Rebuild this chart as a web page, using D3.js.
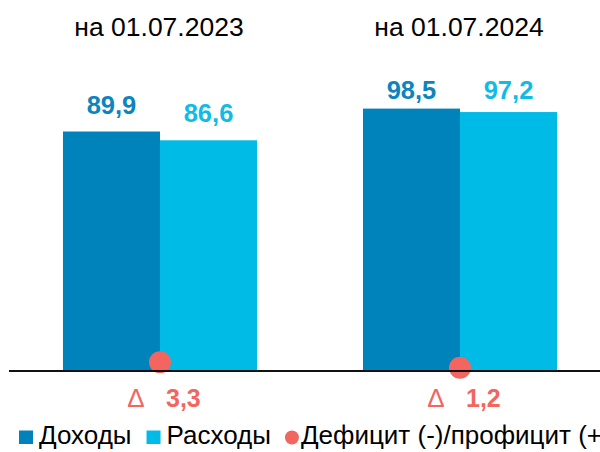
<!DOCTYPE html>
<html>
<head>
<meta charset="utf-8">
<script src="https://cdn.jsdelivr.net/npm/d3@7"></script>
<style>
  body { margin: 0; background: #fff; }
  svg { display: block; font-family: "Liberation Sans", Arial, sans-serif; overflow: hidden; }
</style>
</head>
<body>
<div id="chart"></div>
<script>
// data
var dates = ["на 01.07.2023", "на 01.07.2024"];
var seriesNames = ["Доходы", "Расходы"];
var income = [89.9, 98.5];
var expense = [86.6, 97.2];
var balance = [3.3, 1.2];
var balanceName = "Дефицит (-)/профицит (+)";

var W = 600, H = 452;
var colors = { "Доходы": "#0083BB", "Расходы": "#00BBE6" };
var labelColors = { "Доходы": "#0C84BC", "Расходы": "#12BBE6" };
var red = "#F2665F";

var fmt = function(v){ return d3.format(".1f")(v).replace(".", ","); };

var svg = d3.select("#chart").append("svg")
    .attr("width", W)
    .attr("height", H);

var x0 = d3.scaleBand()
    .domain(dates)
    .range([10, 610])
    .padding(0);

var x1 = d3.scaleBand()
    .domain(seriesNames)
    .range([0, x0.bandwidth()])
    .paddingInner(0)
    .paddingOuter(0.546);

var y = d3.scaleLinear()
    .domain([0, 100])
    .range([371, 104.6]);

var rows = dates.map(function(d, i){
    return { date: d, values: [
        { key: "Доходы", value: income[i] },
        { key: "Расходы", value: expense[i] }
    ], balance: balance[i] };
});

// titles
svg.selectAll("text.title")
    .data(dates)
    .enter().append("text")
    .attr("class", "title")
    .attr("x", function(d){ return x0(d) + x0.bandwidth() / 2 - 1; })
    .attr("y", 36)
    .attr("text-anchor", "middle")
    .attr("font-size", 26.5)
    .attr("fill", "#000")
    .text(function(d){ return d; });

var groups = svg.selectAll("g.group")
    .data(rows)
    .enter().append("g")
    .attr("class", "group")
    .attr("transform", function(d){ return "translate(" + x0(d.date) + ",0)"; });

groups.selectAll("rect")
    .data(function(d){ return d.values; })
    .enter().append("rect")
    .attr("x", function(d){ return x1(d.key); })
    .attr("width", x1.bandwidth())
    .attr("y", function(d){ return y(d.value); })
    .attr("height", function(d){ return y(0) - y(d.value); })
    .attr("fill", function(d){ return colors[d.key]; });

// value labels (kept inside plot area like the original)
groups.selectAll("text.val")
    .data(function(d){ return d.values; })
    .enter().append("text")
    .attr("class", "val")
    .attr("x", function(d){ return x1(d.key) + x1.bandwidth() / 2; })
    .attr("y", function(d){ return Math.max(y(d.value) - 18, 99); })
    .attr("text-anchor", "middle")
    .attr("font-size", 25.5)
    .attr("font-weight", "bold")
    .attr("fill", function(d){ return labelColors[d.key]; })
    .text(function(d){ return fmt(d.value); });

// axis line
svg.append("line")
    .attr("x1", 9)
    .attr("x2", W)
    .attr("y1", y(0))
    .attr("y2", y(0))
    .attr("stroke", "#111")
    .attr("stroke-width", 2);

// balance dots
groups.append("circle")
    .attr("cx", x0.bandwidth() / 2)
    .attr("cy", function(d){ return y(d.balance); })
    .attr("r", 11)
    .attr("fill", red);

// delta labels
var delta = groups.append("g")
    .attr("transform", "translate(" + x0.bandwidth() / 2 + ",407)");
delta.append("text")
    .attr("x", -24)
    .attr("text-anchor", "middle")
    .attr("font-size", 26)
    .attr("fill", red)
    .text("Δ");
delta.append("text")
    .attr("x", 6)
    .attr("font-size", 25)
    .attr("font-weight", "bold")
    .attr("fill", red)
    .text(function(d){ return fmt(d.balance); });

// legend
var legend = svg.append("g").attr("transform", "translate(19,444)");
var lx = 0;
seriesNames.forEach(function(name){
    legend.append("rect")
        .attr("x", lx)
        .attr("y", -13.5)
        .attr("width", 14)
        .attr("height", 13.5)
        .attr("fill", colors[name]);
    var t = legend.append("text")
        .attr("x", lx + 20)
        .attr("font-size", 26)
        .attr("fill", "#000")
        .text(name);
    lx += 20 + t.node().getComputedTextLength() + 15;
});
legend.append("circle")
    .attr("cx", lx + 6)
    .attr("cy", -6.5)
    .attr("r", 7)
    .attr("fill", red);
legend.append("text")
    .attr("x", lx + 15)
    .attr("font-size", 26)
    .attr("fill", "#000")
    .text(balanceName);
</script>
</body>
</html>
